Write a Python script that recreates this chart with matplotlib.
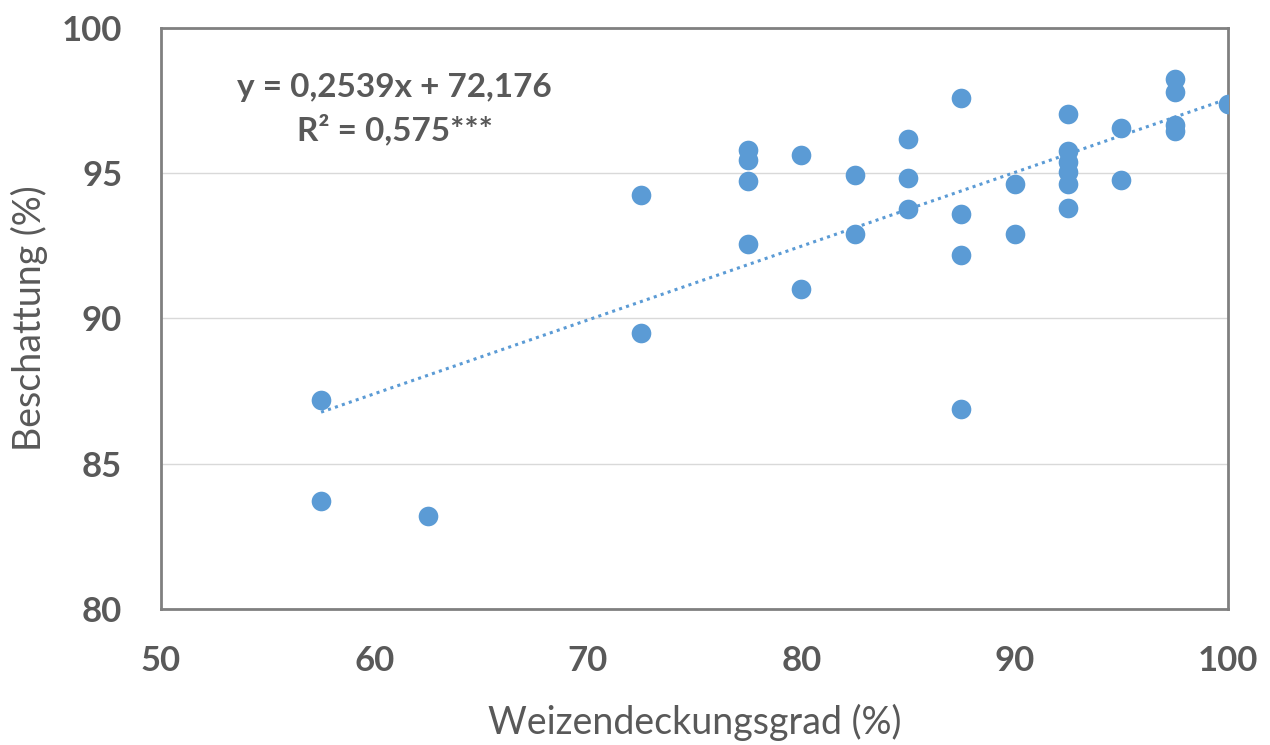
import matplotlib.pyplot as plt
import numpy as np

# Weizendeckungsgrad (%) vs Beschattung (%)
deckung = [57.5, 57.5, 62.5, 72.5, 72.5,
           77.5, 77.5, 77.5, 77.5, 80, 80, 82.5, 82.5,
           85, 85, 85, 87.5, 87.5, 87.5, 87.5, 90, 90,
           92.5, 92.5, 92.5, 92.5, 92.5, 92.5, 95, 95,
           97.5, 97.5, 97.5, 97.5, 100]
beschattung = [87.2, 83.7, 83.2, 94.25, 89.5,
               95.8, 95.45, 94.75, 92.55, 95.63, 91.02, 94.95, 92.9,
               96.18, 94.82, 93.77, 97.6, 93.58, 92.17, 86.87, 94.63, 92.9,
               97.05, 95.75, 95.4, 95.05, 94.62, 93.82, 96.56, 94.77,
               98.24, 97.8, 96.65, 96.47, 97.37]

slope = 0.2539
intercept = 72.176
eq_text = "y = 0,2539x + 72,176"
r2_text = "R² = 0,575***"

blue = "#5B9BD5"
grey = "#595959"
plt.rcParams['font.family'] = ['Lato', 'DejaVu Sans']

fig = plt.figure(figsize=(12.7, 7.45), dpi=100)
ax = fig.add_axes([0.1268, 0.1826, 0.8402, 0.7798])

ax.scatter(deckung, beschattung, s=200, color=blue, zorder=3, linewidths=0)

# linear trendline over the data range
xt = np.array([min(deckung), max(deckung)])
ax.plot(xt, slope * xt + intercept, color=blue, linestyle=(0, (1, 1.4)),
        linewidth=2.2, zorder=2)

ax.set_xlim(50, 100)
ax.set_ylim(80, 100)
ax.set_xticks(range(50, 101, 10))
ax.set_yticks(range(80, 101, 5))
ax.yaxis.grid(True, color="#D9D9D9", linewidth=1)
ax.set_axisbelow(True)

for sp in ax.spines.values():
    sp.set_color("#808080")
    sp.set_linewidth(2)

ax.tick_params(length=0, labelsize=25, labelcolor=grey)
for lab in ax.get_xticklabels() + ax.get_yticklabels():
    lab.set_fontweight("bold")
ax.tick_params(axis='x', pad=26)
ax.tick_params(axis='y', pad=28)

ax.set_xlabel("Weizendeckungsgrad (%)", fontsize=27, color=grey, labelpad=19)
ax.set_ylabel("Beschattung (%)", fontsize=27, color=grey, labelpad=10)

ax.text(0.219, 0.898, eq_text, transform=ax.transAxes, ha="center", va="center",
        fontsize=24, fontweight="bold", color=grey)
ax.text(0.219, 0.826, r2_text, transform=ax.transAxes, ha="center", va="center",
        fontsize=24, fontweight="bold", color=grey)

plt.savefig("out.png", dpi=100)
